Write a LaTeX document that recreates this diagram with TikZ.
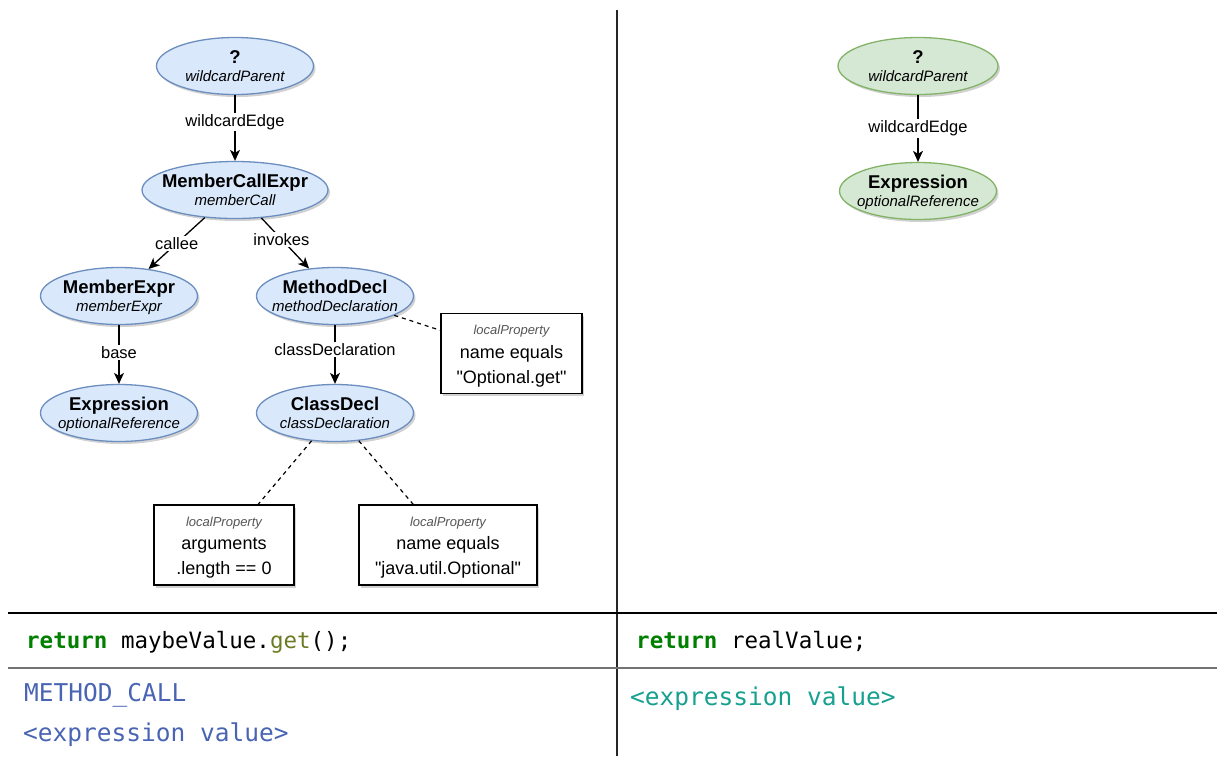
\documentclass[tikz,border=0pt]{standalone}
\usepackage{fontspec}
\setmainfont{Liberation Sans}[Ligatures=TeXOff]
\newfontfamily\codefont{DejaVu Sans Mono}
\usetikzlibrary{shapes.geometric,arrows.meta,shadows}

\definecolor{bluefill}{HTML}{DAE8FC}
\definecolor{bluedraw}{HTML}{6C8EBF}
\definecolor{greenfill}{HTML}{D5E8D4}
\definecolor{greendraw}{HTML}{82B366}
\definecolor{kwgreen}{HTML}{007F00}
\definecolor{fnolive}{HTML}{6B7B24}
\definecolor{kindblue}{HTML}{4A64B4}
\definecolor{valteal}{HTML}{17A08F}
\definecolor{taggray}{HTML}{555555}

\tikzset{
  softshadow/.style={drop shadow={shadow xshift=2pt, shadow yshift=-2.5pt, opacity=0.18, fill=black}},
  blueell/.style={ellipse, draw=bluedraw, fill=bluefill, line width=1.3pt,
    minimum width=157pt, minimum height=57pt, inner sep=0pt, softshadow},
  greenell/.style={ellipse, draw=greendraw, fill=greenfill, line width=1.3pt,
    minimum width=160pt, minimum height=57pt, inner sep=0pt, softshadow},
  titletext/.style={inner sep=0pt, font=\fontsize{18.5}{20}\selectfont\bfseries},
  subtext/.style={inner sep=0pt, font=\fontsize{15}{17}\selectfont\itshape},
  edgelabel/.style={fill=white, inner sep=1.5pt, font=\fontsize{16.5}{18}\selectfont},
  arrowline/.style={draw=black, line width=1.3pt, -{Stealth[length=11pt, width=10pt, inset=3pt]}},
  dashline/.style={draw=black, line width=1.2pt, dash pattern=on 4pt off 4pt},
  propbox/.style={rectangle, draw=black, fill=white, line width=1.3pt, inner sep=0pt,
    minimum height=80pt, softshadow},
  proptag/.style={inner sep=0pt, text=taggray, font=\fontsize{13}{15}\selectfont\itshape},
  proptext/.style={inner sep=0pt, font=\fontsize{18}{20}\selectfont},
  codetext/.style={inner sep=0pt, anchor=base west, font=\codefont\fontsize{22.5}{26}\selectfont},
  outtext/.style={inner sep=0pt, anchor=base west, font=\codefont\fontsize{24.5}{28}\selectfont},
  rule/.style={line width=1.2pt}
}

% pattern node: style, name, x, y, type, binding
\newcommand\patnode[6]{%
  \node[#1] (#2) at (#3,#4) {};
  \node[titletext, anchor=base, yshift=3pt] (#2-title) at (#2) {#5};
  \node[subtext, anchor=base, yshift=-15pt] (#2-sub) at (#2) {#6};
}
% property box: name, x, y, width, line one, line two
\newcommand\propnode[6]{%
  \node[propbox, minimum width=#4pt] (#1) at (#2,#3) {};
  \node[proptag, anchor=base, yshift=19pt] (#1-tag) at (#1) {localProperty};
  \node[proptext, anchor=base, yshift=-4.5pt] (#1-one) at (#1) {#5};
  \node[proptext, anchor=base, yshift=-29.5pt] (#1-two) at (#1) {#6};
}

\begin{document}
\begin{tikzpicture}[x=1pt, y=-1pt]
\useasboundingbox (0,0) rectangle (1217,756);

% table rules
\coordinate (vtop) at (617,10);
\coordinate (vbot) at (617,756);
\coordinate (h1l) at (8,613);
\coordinate (h1r) at (1217,613);
\coordinate (h2l) at (8,668);
\coordinate (h2r) at (1217,668);
\draw[rule, draw=black!85] (vtop) -- (vbot);
\draw[rule, draw=black] (h1l) -- (h1r);
\draw[line width=1.6pt, draw=black!55] (h2l) -- (h2r);

% left pattern
\patnode{blueell}{wp}{235}{66}{?}{wildcardParent}
\patnode{blueell, minimum width=186pt}{mce}{235}{190}{MemberCallExpr}{memberCall}
\patnode{blueell}{me}{119}{296}{MemberExpr}{memberExpr}
\patnode{blueell}{md}{335}{296}{MethodDecl}{methodDeclaration}
\patnode{blueell}{ex}{119}{413}{Expression}{optionalReference}
\patnode{blueell}{cd}{335}{413}{ClassDecl}{classDeclaration}

\propnode{pget}{511.5}{353.5}{141}{name equals}{"Optional.get"}
\propnode{pargs}{224}{545}{140}{arguments}{.length == 0}
\propnode{popt}{448}{545}{178}{name equals}{"java.util.Optional"}

\draw[arrowline] (wp) -- node[edgelabel, pos=0.41] (lwe) {wildcardEdge} (mce);
\draw[arrowline] (mce) -- node[edgelabel, pos=0.5] (lcallee) {callee} (me);
\draw[arrowline] (mce) -- node[edgelabel, pos=0.42] (linv) {invokes} (md);
\draw[arrowline] (me) -- node[edgelabel, pos=0.46] (lbase) {base} (ex);
\draw[arrowline] (md) -- node[edgelabel, pos=0.42] (lcd) {classDeclaration} (cd);

\draw[dashline] (md) -- (pget);
\draw[dashline] (cd) -- (pargs);
\draw[dashline] (cd) -- (popt);

% right pattern
\patnode{greenell}{rwp}{918}{66}{?}{wildcardParent}
\patnode{greenell, minimum width=157pt}{rex}{918}{191}{Expression}{optionalReference}
\draw[arrowline] (rwp) -- node[edgelabel, pos=0.5] (rlwe) {wildcardEdge} (rex);

% code rows
\node[codetext] (srcl) at (26,648) {\textcolor{kwgreen}{\bfseries return} maybeValue.\textcolor{fnolive}{get}();};
\node[codetext] (srcr) at (636,648) {\textcolor{kwgreen}{\bfseries return} realValue;};
\node[outtext, text=kindblue] (kind) at (24,701) {METHOD\char95 CALL};
\node[outtext, text=kindblue] (vall) at (23,741) {<expression value>};
\node[outtext, text=valteal] (valr) at (630,705) {<expression value>};
\end{tikzpicture}
\end{document}
